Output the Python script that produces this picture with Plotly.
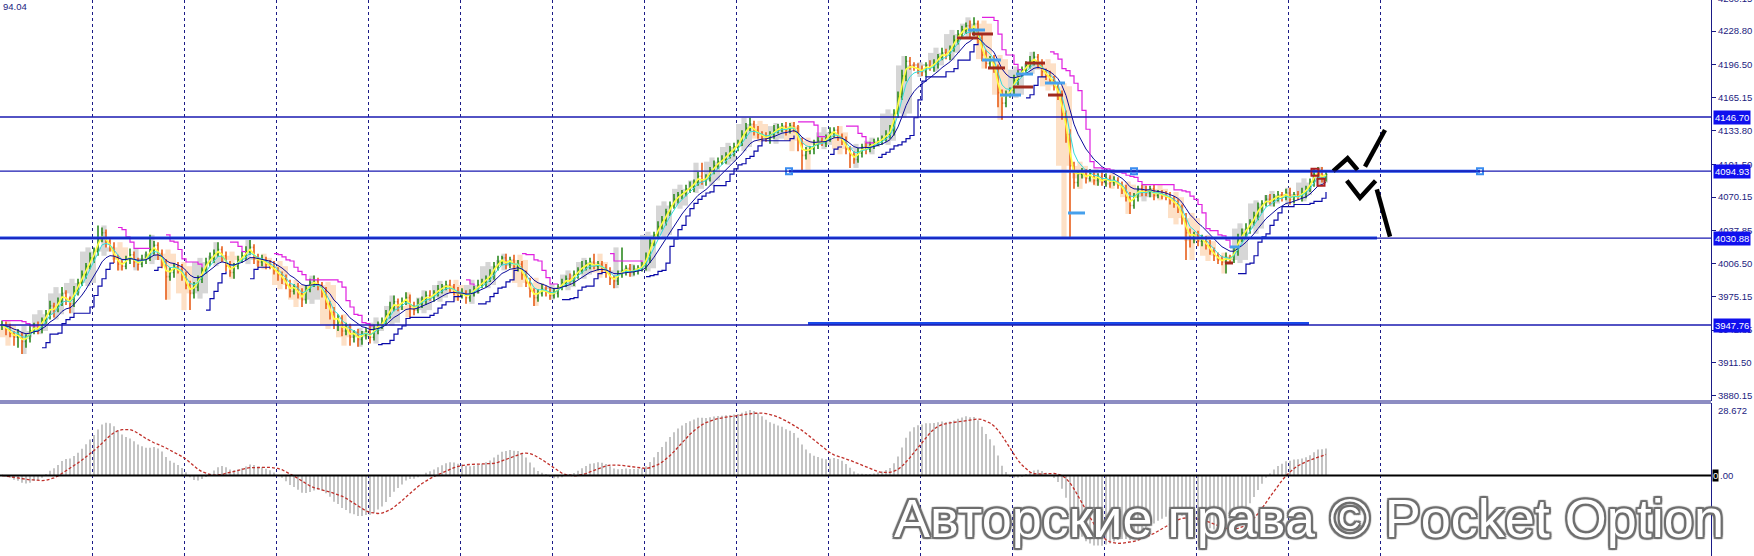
import plotly.graph_objects as go

# ---------------- data ----------------
closes = [
    3948, 3944, 3940, 3936, 3938, 3932, 3935, 3942, 3947, 3944,
    3952, 3958, 3966, 3963, 3970, 3978, 3973, 3968, 3980, 3988,
    3996, 4004, 4012, 4018, 4030, 4036, 4028, 4022, 4012, 4006,
    4004, 4010, 4015, 4008, 4006, 4010, 4012, 4020, 4024, 4016,
    4008, 3994, 3998, 4004, 4000, 3996, 3986, 3978, 3984, 3992,
    4000, 4008, 4012, 4016, 4020, 4014, 4004, 3998, 4004, 4010,
    4014, 4018, 4022, 4012, 4008, 4010, 4006, 4004, 4000, 3996,
    3992, 3986, 3980, 3984, 3978, 3972, 3982, 3988, 3990, 3986,
    3980, 3968, 3960, 3948, 3954, 3942, 3945, 3936, 3940, 3934,
    3938, 3942, 3936, 3944, 3948, 3950, 3958, 3964, 3970, 3966,
    3970, 3974, 3966, 3962, 3968, 3972, 3976, 3974, 3978, 3982,
    3984, 3986, 3984, 3980, 3976, 3978, 3974, 3978, 3982, 3986,
    3988, 3992, 3996, 4004, 4008, 4012, 4006, 4010, 4004, 4006,
    3996, 3988, 3980, 3974, 3978, 3982, 3980, 3976, 3978, 3984,
    3988, 3992, 3990, 3996, 4000, 4004, 4006, 4008, 4004, 4006,
    4002, 3998, 3992, 3990, 3996, 4000, 4002, 3998, 4000, 4002,
    4004, 4012, 4026, 4034, 4042, 4048, 4056, 4062, 4068, 4072,
    4074, 4078, 4080, 4084, 4090, 4086, 4088, 4096, 4100, 4104,
    4106, 4110, 4114, 4118, 4122, 4130, 4136, 4140, 4134, 4130,
    4128, 4126, 4130, 4134, 4136, 4138, 4134, 4138, 4136, 4124,
    4110, 4114, 4116, 4120, 4124, 4122, 4126, 4132, 4134, 4128,
    4124, 4116, 4110, 4106, 4112, 4118, 4116, 4120, 4122, 4124,
    4126, 4130, 4134, 4150, 4166, 4186, 4200, 4196, 4194, 4192,
    4190, 4196, 4194, 4198, 4204, 4208, 4206, 4212, 4220, 4226,
    4230, 4234, 4228, 4236, 4222, 4206, 4198, 4202, 4194, 4170,
    4160, 4168, 4172, 4182, 4188, 4192, 4196, 4200, 4204, 4198,
    4190, 4186, 4182, 4176, 4168, 4150, 4130, 4100, 4084, 4092,
    4094, 4088, 4092, 4086, 4090, 4084, 4088, 4084, 4086, 4082,
    4078, 4070, 4062, 4070, 4078, 4076, 4074, 4078, 4072, 4074,
    4072, 4070, 4068, 4064, 4060, 4050, 4036, 4030, 4034, 4028,
    4030, 4024, 4018, 4014, 4010, 4008, 4012, 4010, 4018, 4030,
    4036, 4040, 4046, 4052, 4060, 4064, 4068, 4066, 4070, 4072,
    4070, 4074, 4068, 4072, 4070, 4074, 4078, 4084, 4092, 4096,
    4088, 4092,
]
# wick length above the body / below the body of every bar
up_wick = [
    4, 3, 5, 2, 6, 3, 4, 5, 3, 4,   3, 4, 5, 3, 4, 6, 3, 2, 5, 4,
    4, 3, 5, 4, 13, 5, 3, 4, 5, 3,  5, 4, 6, 3, 4, 5, 6, 14, 4, 3,
    4, 3, 5, 3, 4, 6, 3, 4, 5, 3,   3, 4, 5, 4, 7, 3, 4, 5, 3, 4,
    4, 5, 7, 3, 4, 5, 3, 4, 5, 3,   3, 4, 5, 3, 4, 5, 3, 4, 5, 3,
    3, 4, 3, 5, 4, 3, 5, 4, 3, 4,   4, 3, 5, 4, 3, 5, 4, 6, 6, 3,
    4, 5, 3, 4, 5, 3, 4, 5, 3, 4,   3, 4, 5, 3, 4, 5, 3, 4, 3, 5,
    4, 3, 5, 4, 6, 2, 4, 3, 5, 4,   3, 4, 5, 3, 4, 5, 3, 4, 5, 3,
    4, 3, 5, 4, 3, 5, 4, 4, 8, 3,   3, 4, 5, 3, 4, 22, 3, 4, 5, 3,
    4, 5, 4, 3, 5, 4, 3, 4, 5, 3,   3, 4, 5, 3, 4, 13, 4, 3, 5, 4,
    4, 3, 5, 4, 3, 4, 5, 6, 3, 4,   3, 4, 3, 5, 4, 3, 4, 3, 4, 3,
    3, 4, 3, 5, 4, 3, 4, 5, 3, 4,   3, 4, 3, 4, 5, 3, 4, 3, 4, 3,
    3, 4, 5, 4, 5, 6, 5, 4, 3, 4,   4, 3, 5, 4, 3, 5, 4, 3, 5, 4,
    4, 3, 5, 6, 3, 4, 5, 3, 4, 3,   3, 4, 3, 5, 4, 3, 4, 5, 5, 3,
    4, 3, 5, 4, 3, 4, 3, 5, 4, 3,   4, 3, 5, 4, 3, 4, 5, 3, 4, 3,
    3, 4, 5, 4, 3, 4, 5, 3, 4, 3,   3, 4, 5, 3, 4, 3, 5, 4, 3, 4,
    4, 3, 5, 4, 3, 4, 5, 3, 4, 5,   4, 5, 3, 4, 5, 3, 4, 5, 3, 4,
    3, 4, 5, 3, 4, 5, 3, 4, 5, 3,   3, 4,
]
down_wick = [
    5, 6, 4, 8, 10, 12, 6, 4, 3, 5,  4, 3, 5, 8, 3, 4, 6, 9, 3, 4,
    3, 4, 3, 5, 4, 3, 6, 4, 5, 6,    4, 3, 4, 5, 6, 3, 4, 3, 5, 6,
    6, 22, 4, 5, 3, 6, 4, 16, 5, 4,  4, 3, 4, 5, 3, 6, 5, 4, 6, 3,
    3, 4, 3, 6, 5, 4, 5, 3, 4, 6,    5, 4, 6, 3, 5, 7, 4, 3, 4, 5,
    6, 5, 7, 4, 6, 5, 4, 8, 5, 7,    5, 4, 6, 3, 5, 4, 3, 4, 3, 5,
    4, 3, 11, 5, 3, 4, 5, 3, 4, 3,   4, 3, 5, 4, 5, 3, 6, 4, 3, 4,
    3, 4, 3, 5, 4, 3, 5, 4, 3, 5,    5, 4, 6, 8, 4, 3, 5, 4, 3, 4,
    3, 4, 3, 5, 4, 3, 4, 5, 3, 4,    4, 5, 6, 7, 4, 3, 5, 4, 3, 4,
    3, 4, 5, 3, 4, 3, 5, 4, 3, 4,    4, 3, 4, 5, 3, 4, 5, 3, 4, 3,
    3, 4, 3, 5, 4, 3, 4, 3, 5, 4,    4, 3, 5, 4, 3, 4, 5, 3, 4, 10,
    16, 4, 3, 5, 4, 3, 4, 3, 5, 4,   4, 5, 12, 4, 3, 4, 5, 3, 4, 3,
    4, 3, 4, 5, 4, 3, 5, 4, 3, 4,    4, 5, 3, 4, 5, 3, 4, 5, 3, 4,
    3, 4, 5, 4, 5, 6, 5, 4, 5, 14,   16, 4, 3, 4, 5, 3, 4, 3, 4, 5,
    5, 4, 3, 4, 5, 6, 8, 70, 6, 4,   4, 5, 3, 4, 5, 3, 4, 5, 3, 4,
    5, 4, 8, 3, 4, 5, 3, 4, 5, 3,    4, 3, 5, 4, 5, 6, 26, 8, 4, 5,
    5, 4, 3, 5, 4, 3, 11, 4, 3, 4,   3, 4, 5, 3, 4, 5, 3, 4, 5, 4,
    4, 3, 5, 4, 3, 4, 5, 3, 4, 5,    4, 3,
]

# horizontal price levels (right-axis boxes)
level_prices = [4146.70, 4094.93, 4030.88, 3947.76]
level_labels = ["4146.70", "4094.93", "4030.88", "3947.76"]

# right-axis price scale labels
price_ticks = [4228.80, 4196.50, 4165.15, 4133.80, 4101.50, 4070.15,
               4037.85, 4006.50, 3975.15, 3942.85, 3911.50, 3880.15]
price_tick_text = ["4228.80", "4196.50", "4165.15", "4133.80", "4101.50", "4070.15",
                   "4037.85", "4006.50", "3975.15", "3942.85", "3911.50", "3880.15"]
top_tick_text = "4260.15"
corner_text = "94.04"
macd_max_text = "28.672"

# drawn trend-line segments (bar index start/end, price)
trend_start = [196.75, -0.5, 201.5]
trend_end = [369.5, 343.75, 326.75]
trend_price = [4094.93, 4030.88, 3949.3]
anchor_bars = [196.75, 283.0, 369.5]
anchor_price = 4094.93

# small level markers (bar start, bar end, price, kind)
mark_start = [241.5, 242.5, 238.75, 245.0, 246.5, 249.5, 253.5, 255.75, 252.75, 260.75, 261.5, 266.5, 307.0, 305.75]
mark_end = [245.75, 247.75, 244.0, 249.75, 250.75, 254.75, 257.75, 260.75, 257.75, 265.75, 265.25, 270.75, 309.5, 307.75]
mark_price = [4229.9, 4226.1, 4222.3, 4201.2, 4193.6, 4167.7, 4187.8, 4198.3, 4175.4, 4179.2, 4167.7, 4054.9, 4022.4, 4007.1]
mark_kind = ["b", "r", "r", "b", "r", "b", "b", "r", "r", "b", "r", "b", "b", "r"]

# red signal squares near the last bars
signal_bars = [328.25, 329.75]
signal_prices = [4093.8, 4084.2]

# hand-drawn black forecast strokes (bar index, price)
stroke_bars = [[332.8, 336.4, 338.9], [340.75, 345.75], [336.2, 339.5, 343.4], [343.7, 347.0]]
stroke_prices = [[4095.0, 4107.2, 4096.0], [4099.2, 4134.3], [4085.8, 4069.5, 4085.8], [4077.5, 4032.2]]

watermark = "Авторские права © Pocket Option"

# ---------------- derived series ----------------
n = min(len(closes), len(up_wick), len(down_wick))
closes = closes[:n]
opens = [closes[0]] + closes[:-1]
highs = [max(o, c) + u for o, c, u in zip(opens, closes, up_wick[:n])]
lows = [min(o, c) - d for o, c, d in zip(opens, closes, down_wick[:n])]
idx = list(range(n))


def ema(vals, period):
    a = 2.0 / (period + 1)
    out = [vals[0]]
    for v in vals[1:]:
        out.append(out[-1] + a * (v - out[-1]))
    return out


def sma(vals, period):
    out = []
    for i in range(len(vals)):
        w = vals[max(0, i - period + 1):i + 1]
        out.append(sum(w) / len(w))
    return out


ema_fast = ema(closes, 2)
ema_mid = ema(closes, 4)
ema_slow = ema(closes, 9)

# trailing stop (navy in up-trend, magenta in down-trend)
N = 5
up = False
stop = None
stops, dirs = [], []
for i in range(n):
    lo = min(lows[max(0, i - N + 1):i + 1])
    hi = max(highs[max(0, i - N + 1):i + 1])
    if stop is None:
        stop = hi
    if up:
        stop = max(stop, lo)
        if closes[i] < stop:
            up = False
            stop = hi
    else:
        stop = min(stop, hi)
        if closes[i] > stop:
            up = True
            stop = lo
    stops.append(stop)
    dirs.append(up)
stop_up = [s if d else None for s, d in zip(stops, dirs)]
stop_dn = [s if not d else None for s, d in zip(stops, dirs)]

# MACD
macd = [a - b for a, b in zip(ema(closes, 12), ema(closes, 26))]
signal = sma(macd, 9)

# higher time-frame candle blocks (groups of 4 bars)
g_x, g_base, g_h, g_col, g_wb, g_wh = [], [], [], [], [], []
for k in range(0, n, 4):
    e = min(k + 3, n - 1)
    o, c = opens[k], closes[e]
    hi, lo = max(highs[k:e + 1]), min(lows[k:e + 1])
    g_x.append((k + e) / 2)
    g_base.append(min(o, c))
    g_h.append(max(abs(c - o), 1.0))
    g_col.append("#d6d6d6" if c >= o else "#fde0c6")
    g_wb.append(lo)
    g_wh.append(hi - lo)

# ---------------- figure ----------------
W, H = 1754, 556
R = 43
main_bottom_px, sub_top_px = 401, 403
main_dom = [1 - main_bottom_px / H, 1]
sub_dom = [0, 1 - sub_top_px / H]
NAVY = "#1b1b86"
AXFONT = dict(family="Liberation Sans, Arial, sans-serif", size=9.5, color="#1c1c80")

fig = go.Figure()

fig.add_trace(go.Bar(x=g_x, y=g_wh, base=g_wb, width=1.3, marker=dict(color=g_col, line=dict(width=0)),
                     xaxis="x", yaxis="y", hoverinfo="skip"))
fig.add_trace(go.Bar(x=g_x, y=g_h, base=g_base, width=4.0, marker=dict(color=g_col, line=dict(width=0)),
                     xaxis="x", yaxis="y", hoverinfo="skip"))

fig.add_trace(go.Scatter(x=idx, y=ema_fast, mode="lines", line=dict(color="#ffff40", width=1.6)))

fig.add_trace(go.Ohlc(x=idx, open=opens, high=highs, low=lows, close=closes,
                      increasing=dict(line=dict(color="#2f8a22", width=1.6)),
                      decreasing=dict(line=dict(color="#e8601c", width=1.6)),
                      tickwidth=0.3, xaxis="x", yaxis="y"))

fig.add_trace(go.Scatter(x=idx, y=ema_mid, mode="lines", line=dict(color="#33dddd", width=1)))
fig.add_trace(go.Scatter(x=idx, y=ema_slow, mode="lines", line=dict(color="#0a0a9a", width=1)))
fig.add_trace(go.Scatter(x=idx, y=stop_up, mode="lines", line=dict(color="#0a0aa8", width=1.2, shape="hv")))
fig.add_trace(go.Scatter(x=idx, y=stop_dn, mode="lines", line=dict(color="#e020e0", width=1.2, shape="hv")))

# full-width horizontal levels
for p in level_prices:
    fig.add_shape(type="line", xref="paper", x0=0, x1=1, yref="y", y0=p, y1=p,
                  line=dict(color="#1a1ab0", width=1.3))
# trend segments
for x0, x1, p in zip(trend_start, trend_end, trend_price):
    fig.add_trace(go.Scatter(x=[x0, x1], y=[p, p], mode="lines", line=dict(color="#1848e8", width=3)))
fig.add_trace(go.Scatter(x=anchor_bars, y=[anchor_price] * len(anchor_bars), mode="markers",
                         marker=dict(symbol="square-open", size=6, color="#3a8cf0", line=dict(width=2, color="#3a8cf0"))))

# small markers
for kind, col in (("b", "#46a0ec"), ("r", "#a02a1e")):
    xs, ys = [], []
    for s, e, p, k in zip(mark_start, mark_end, mark_price, mark_kind):
        if k == kind:
            xs += [s, e, None]
            ys += [p, p, None]
    fig.add_trace(go.Scatter(x=xs, y=ys, mode="lines", line=dict(color=col, width=3)))

fig.add_trace(go.Scatter(x=signal_bars, y=signal_prices, mode="markers",
                         marker=dict(symbol="square-open", size=7, color="#b02020", line=dict(width=2, color="#b02020"))))

for bx, by in zip(stroke_bars, stroke_prices):
    fig.add_trace(go.Scatter(x=bx, y=by, mode="lines", line=dict(color="black", width=4.5)))

# MACD panel
fig.add_trace(go.Bar(x=idx, y=macd, width=0.35, marker=dict(color="#c4c4c4", line=dict(width=0)),
                     xaxis="x2", yaxis="y2"))
fig.add_trace(go.Scatter(x=idx, y=signal, mode="lines", xaxis="x2", yaxis="y2",
                         line=dict(color="#c0302a", width=1.3, dash="3px,2px")))

# ---------------- layout ----------------
xmin, xmax = -0.5, (W - R) / 4 - 0.5
grid_vals = [23 * k - 0.5 for k in range(16)]
xcommon = dict(range=[xmin, xmax], showticklabels=False, ticks="", showgrid=True, gridcolor=NAVY,
               gridwidth=1, griddash="3px,3px", tickvals=grid_vals, zeroline=False, showline=False,
               fixedrange=True)

price_per_px = 1 / 1.0456
y_top = 4146.70 + 117 * price_per_px
y_bot = 4146.70 - (main_bottom_px - 117) * price_per_px
macd_top = 28.672
macd_px = (475.5 - sub_top_px) / macd_top
macd_bot = -(H - 475.5) / macd_px

fig.update_layout(
    width=W, height=H, margin=dict(l=0, r=R, t=0, b=0, pad=0),
    paper_bgcolor="white", plot_bgcolor="white", showlegend=False, barmode="overlay",
    xaxis=dict(domain=[0, 1], anchor="y", rangeslider=dict(visible=False), **xcommon),
    xaxis2=dict(domain=[0, 1], anchor="y2", matches="x", **xcommon),
    yaxis=dict(domain=main_dom, range=[y_bot, y_top], side="right", tickvals=price_ticks,
               ticktext=price_tick_text, ticks="outside", ticklen=4, tickcolor=NAVY, tickfont=AXFONT,
               showline=True, linecolor=NAVY, linewidth=1, showgrid=False, zeroline=False,
               automargin=False, fixedrange=True),
    yaxis2=dict(domain=sub_dom, range=[macd_bot, macd_top], side="right", showticklabels=False,
                ticks="", showline=True, linecolor=NAVY, linewidth=1, showgrid=False, zeroline=False,
                automargin=False, fixedrange=True),
)

# separator double line and zero line
for yy in (main_dom[0], sub_dom[1]):
    fig.add_shape(type="line", xref="paper", yref="paper", x0=0, x1=1, y0=yy, y1=yy,
                  line=dict(color=NAVY, width=1))
fig.add_shape(type="line", xref="paper", x0=0, x1=1, yref="y2", y0=0, y1=0, line=dict(color="black", width=2))

ann = []
for p, lab in zip(level_prices, level_labels):
    ann.append(dict(x=1, xref="paper", xanchor="left", xshift=2, y=p, yref="y", yanchor="middle",
                    text=lab, showarrow=False, bgcolor="#1010ee", borderpad=1,
                    font=dict(family=AXFONT["family"], size=9.5, color="white")))
ann.append(dict(x=1, xref="paper", xanchor="left", xshift=5, y=1, yref="paper", yanchor="middle",
                yshift=2, text=top_tick_text, showarrow=False, font=AXFONT))
ann.append(dict(x=1, xref="paper", xanchor="left", xshift=5, y=macd_top, yref="y2", yanchor="top",
                text=macd_max_text, showarrow=False, font=AXFONT))
ann.append(dict(x=1, xref="paper", xanchor="left", xshift=1, y=0, yref="y2", yanchor="middle",
                text="0", showarrow=False, bgcolor="black", borderpad=0,
                font=dict(family=AXFONT["family"], size=9.5, color="white")))
ann.append(dict(x=1, xref="paper", xanchor="left", xshift=7, y=0, yref="y2", yanchor="middle",
                text=".00", showarrow=False, font=AXFONT))
ann.append(dict(x=0, xref="paper", xanchor="left", xshift=1, y=1, yref="paper", yanchor="top", yshift=1,
                text=corner_text, showarrow=False, font=AXFONT))

wm_x = 1309 / (W - R)
wm_y = (H - 518) / H
wm_font = dict(family="Liberation Sans, Arial, sans-serif", size=54)
outline = ("-2px -2px 1px #6e6e6e, 2px -2px 1px #6e6e6e, -2px 2px 1px #6e6e6e, 2px 2px 1px #6e6e6e, "
           "0 2px 1px #6e6e6e, 0 -2px 1px #6e6e6e, 2px 0 1px #6e6e6e, -2px 0 1px #6e6e6e")
wm_ann = dict(x=wm_x, y=wm_y, xref="paper", yref="paper", xanchor="center", yanchor="middle",
              text=watermark, showarrow=False)
try:
    go.layout.Annotation(font=dict(shadow=outline))
    ann.append(dict(font=dict(color="white", shadow=outline, **wm_font), **wm_ann))
except Exception:
    for dx, dy in ((-2, 0), (2, 0), (0, -2), (0, 2), (-2, -2), (2, 2), (-2, 2), (2, -2)):
        ann.append(dict(xshift=dx, yshift=dy, font=dict(color="rgba(110,110,110,0.85)", **wm_font), **wm_ann))
    ann.append(dict(font=dict(color="white", **wm_font), **wm_ann))
fig.update_layout(annotations=ann)

fig.write_html("out.html", config={"displayModeBar": False},
               post_script="document.body.style.margin='0px';document.body.style.padding='0px';"
                           "document.body.style.overflow='hidden';")
